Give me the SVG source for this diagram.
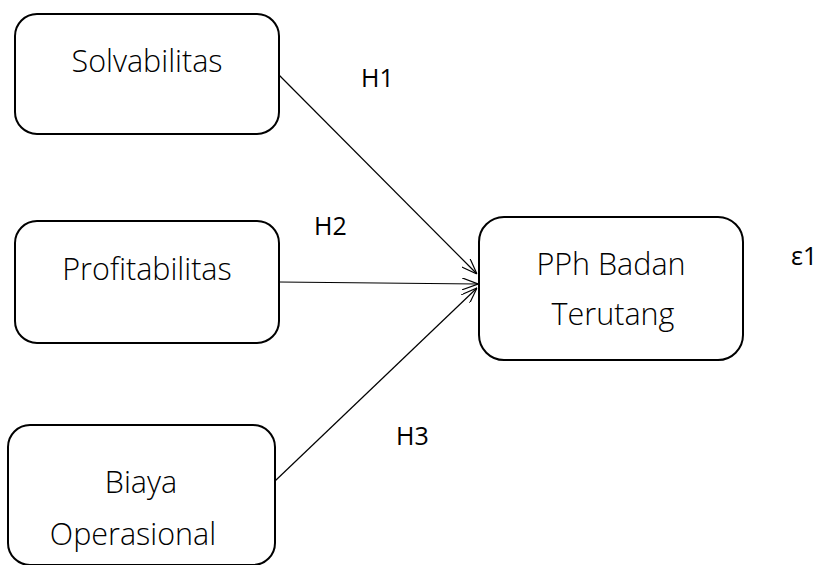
<svg xmlns="http://www.w3.org/2000/svg" width="821" height="565" viewBox="0 0 821 565">
<style>
.box{fill:#fff;stroke:#000;stroke-width:2}
.lbl{font-family:"Open Sans","Noto Sans",sans-serif;font-weight:300;font-size:30.5px;fill:#000;text-anchor:middle}
.h{font-family:"Open Sans","Noto Sans",sans-serif;font-weight:400;font-size:25px;fill:#000}
.conn{stroke:#000;stroke-width:1.2;fill:none}
</style>
<defs>
<marker id="arr" viewBox="0 0 16 12" refX="16" refY="6" markerWidth="16" markerHeight="12" markerUnits="userSpaceOnUse" orient="auto">
<path d="M0,0 L16,6 L0,12" fill="none" stroke="#000" stroke-width="1.2"/>
</marker>
</defs>
<rect width="821" height="565" fill="#fff"/>
<g id="connectors">
<line class="conn" x1="279" y1="75" x2="477" y2="274" marker-end="url(#arr)"/>
<line class="conn" x1="279" y1="282" x2="478" y2="284" marker-end="url(#arr)"/>
<line class="conn" x1="275" y1="481" x2="477" y2="288" marker-end="url(#arr)"/>
</g>
<g id="solvabilitas">
<rect class="box" x="15" y="14" width="264" height="120" rx="22"/>
<text class="lbl" x="147" y="72">Solvabilitas</text>
</g>
<g id="profitabilitas">
<rect class="box" x="15" y="221" width="264" height="122" rx="22"/>
<text class="lbl" x="147" y="280">Profitabilitas</text>
</g>
<g id="biaya">
<rect class="box" x="8" y="425" width="267" height="140" rx="22"/>
<text class="lbl" x="141" y="493">Biaya</text>
<text class="lbl" x="133" y="545">Operasional</text>
</g>
<g id="pph">
<rect class="box" x="479" y="217" width="264" height="143" rx="25"/>
<text class="lbl" x="611" y="275">PPh Badan</text>
<text class="lbl" x="613" y="325">Terutang</text>
</g>
<g id="labels">
<text class="h" x="361" y="87">H1</text>
<text class="h" x="314" y="235">H2</text>
<text class="h" x="396" y="445">H3</text>
<text class="h" x="791" y="265">ε1</text>
</g>
</svg>
